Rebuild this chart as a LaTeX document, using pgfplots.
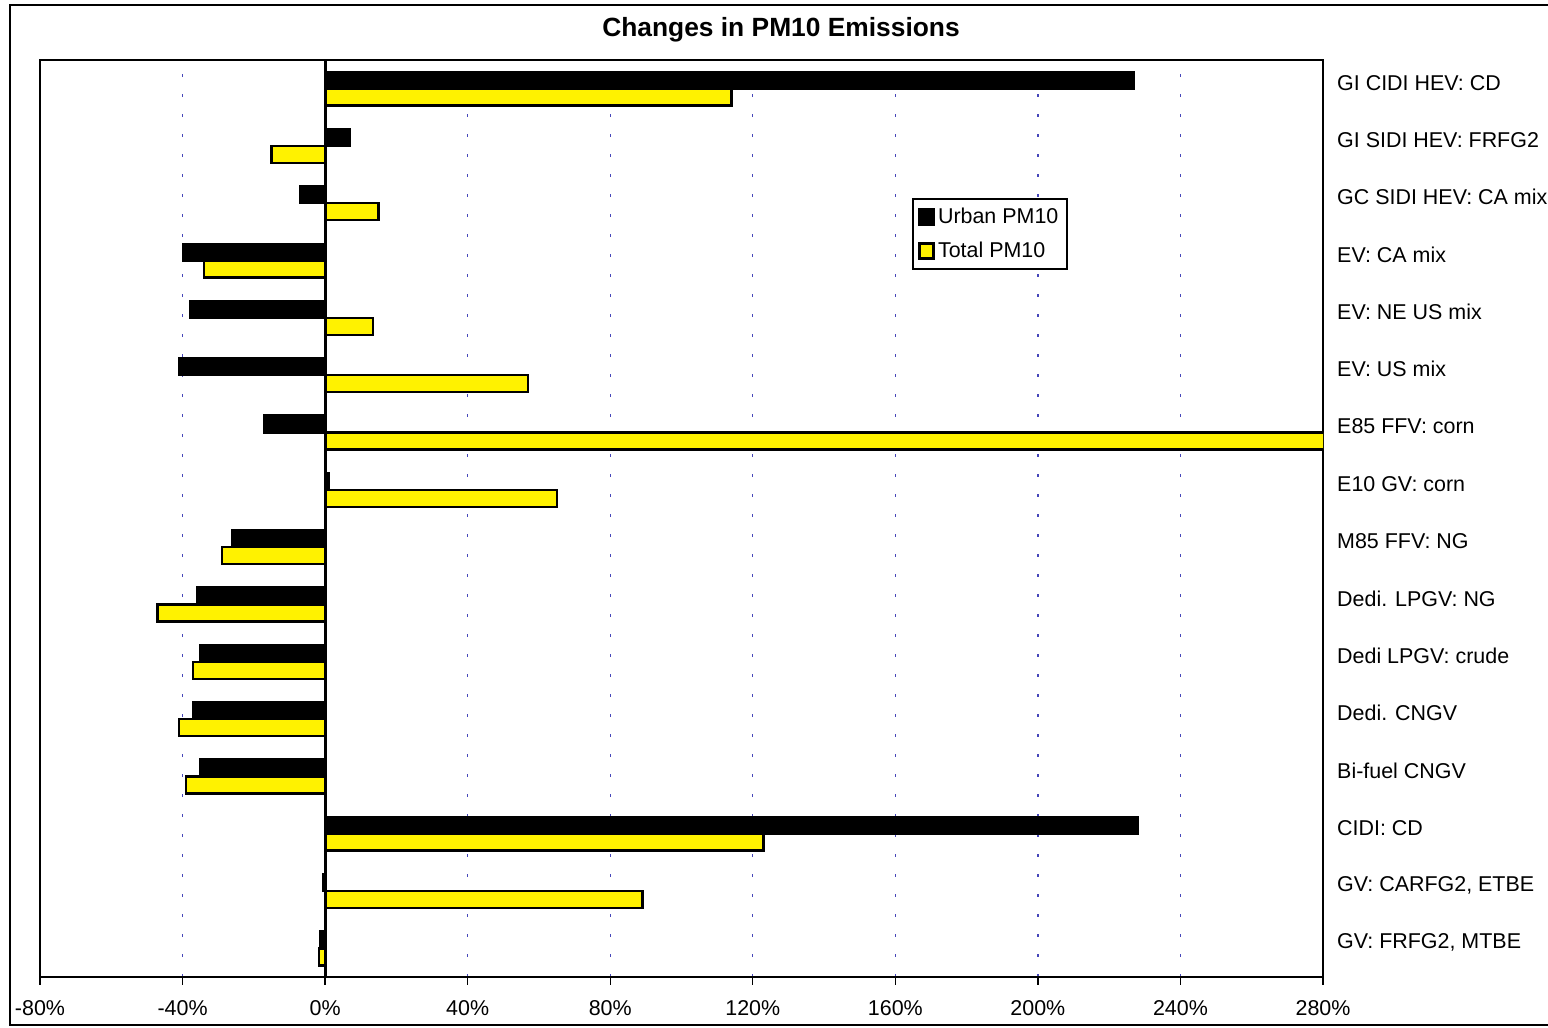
\documentclass[border=0pt]{standalone}
\usepackage{pgfplots}
\pgfplotsset{compat=1.18}
\usepackage{fontspec}
\setmainfont{Liberation Sans}

% y: 15 = top category
\pgfplotstableread{
y urban total
15 227 114
14 7 -15
13 -7 15
12 -40 -34
11 -38 13.5
10 -41 57
9 -17 300
8 1 65
7 -26 -29
6 -36 -47
5 -35 -37
4 -37 -41
3 -35 -39
2 228 123
1 -0.5 89
0 -1.5 -1.7
}\pmdata

\begin{document}
\begin{tikzpicture}
\useasboundingbox (-0.8,-1.02) rectangle (30.16,19.54);
\draw[line width=0.8pt] (-0.6,-0.96) rectangle (31,19.44);
\node[font=\bfseries\fontsize{15}{18}\selectfont] at (14.82,18.94) {Changes in PM10 Emissions};
\begin{axis}[
  at={(0,0)}, anchor=south west,
  scale only axis, width=25.66cm, height=18.34cm,
  xmin=-80, xmax=280, ymin=-0.5, ymax=15.5,
  xbar, bar width=0.34cm,
  axis line style={line width=1.6pt},
  xtick={-80,-40,...,280},
  xticklabels={-80\%,-40\%,0\%,40\%,80\%,120\%,160\%,200\%,240\%,280\%},
  xtick pos=bottom, tick align=outside,
  x tick style={line width=0.8pt, black},
  major tick length=0.16cm,
  xticklabel style={yshift=-0.18cm},
  ytick={0,...,15},
  yticklabels={{GV: FRFG2, MTBE},{GV: CARFG2, ETBE},{CIDI: CD},{Bi-fuel CNGV},{Dedi. CNGV},{Dedi LPGV: crude},{Dedi. LPGV: NG},{M85 FFV: NG},{E10 GV: corn},{E85 FFV: corn},{EV: US mix},{EV: NE US mix},{EV: CA mix},{GC SIDI HEV: CA mix},{GI SIDI HEV: FRFG2},{GI CIDI HEV: CD}},
  yticklabel pos=right,
  y tick style={draw=none},
  yticklabel style={anchor=west, xshift=0.0cm, yshift=0.12cm},
  tick label style={font=\fontsize{12.2}{14}\selectfont},
  xmajorgrids,
  major grid style={dash pattern=on 0.05cm off 0.35cm, line width=0.8pt, color=blue!45!gray},
  legend style={at={(0.680,0.849)}, anchor=north west, draw=black, line width=0.8pt,
    font=\fontsize{12.2}{14}\selectfont, inner sep=3pt, row sep=5pt},
  legend cell align=left,
  legend image code/.code={\draw[#1, line width=1.2pt] (0cm,-0.15cm) rectangle (0.28cm,0.15cm);},
]
\addplot[fill=black, draw=black, line width=1.2pt, bar shift=0.17cm] table[x=urban, y=y] {\pmdata};
\addlegendentry{Urban PM10}
\addplot[fill=yellow, draw=black, line width=1.4pt, bar shift=-0.17cm] table[x=total, y=y] {\pmdata};
\addlegendentry{Total PM10}
\draw[line width=1.6pt] (axis cs:0,-0.5) -- (axis cs:0,15.5);
\end{axis}
\end{tikzpicture}
\end{document}
